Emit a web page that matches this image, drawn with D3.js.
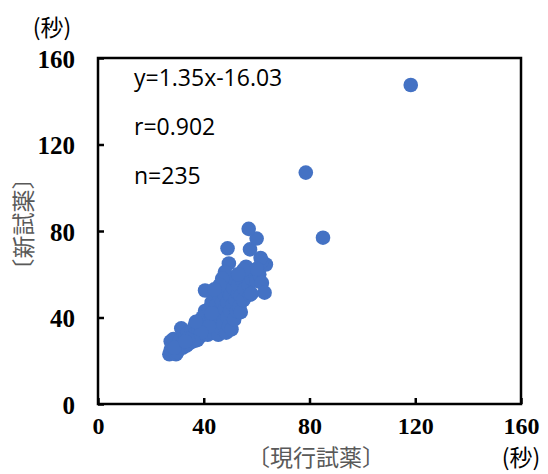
<!DOCTYPE html>
<html>
<head>
<meta charset="utf-8">
<script src="https://cdn.jsdelivr.net/npm/d3@7"></script>
<style>
  body { margin: 0; background: #fff; }
  .tick text { font-family: "Liberation Serif", "Times New Roman", serif; font-weight: bold; font-size: 25px; fill: #000; }
  .note { font-family: "Open Sans", "Noto Sans", sans-serif; font-size: 23px; fill: #000; }
  .cjk { font-family: "Noto Sans CJK JP", sans-serif; font-size: 23px; }
</style>
</head>
<body>
<div id="chart"></div>
<script>
// 現行試薬 (x) vs 新試薬 (y), seconds
const currentTimes = [
  27, 27.5, 28, 27.5, 28.5, 29.5, 30, 30.5, 31, 31.5, 32, 32.5, 33, 33.5, 34, 34.5, 35, 35.5, 36, 36.5,
  37, 37.5, 38, 38, 38.5, 39, 39.5, 40, 40, 40.5, 40.5, 41, 41, 41.5, 42, 42, 42.5, 43, 43, 43.5,
  44, 44, 44.5, 45, 45, 45, 45.5, 46, 46, 46, 46.5, 47, 47, 47, 47.5, 48, 48, 48, 48.5, 49,
  49, 49, 49.5, 50, 50, 50, 50.5, 51, 51, 51.5, 52, 52, 52.5, 53, 53, 53.5, 54, 54, 54.5, 55,
  55.5, 56, 56, 57, 57.5, 58, 58, 59, 60, 61, 62, 63, 63.5, 62, 61.5, 60, 57.5, 60, 57, 49,
  49.5, 48, 47, 46, 44, 55, 53, 42, 39, 36, 34, 30, 29, 33, 37, 43,
  118.3, 78.6, 85.1
];
const newTimes = [
  23, 25, 27, 29, 30, 23, 25.5, 28, 30, 35, 26, 29, 31, 27, 33, 28, 30, 34, 31, 36,
  33, 29.5, 38, 34, 31, 36, 40, 33, 38, 43, 52.5, 35, 41, 32, 38, 44, 35, 40, 47, 33,
  37, 43, 49, 35, 40, 46, 32, 38, 43, 50, 35, 41, 47, 53, 37, 44, 50, 56.5, 33, 40,
  47, 53, 36, 43, 50, 58.5, 34.5, 46, 54, 39, 48, 57.5, 43, 51, 55, 45, 42.5, 50, 57, 48,
  53, 60, 63.5, 55, 50.5, 58, 51, 61, 57, 60, 56, 51.5, 64.5, 66, 67.5, 62.5, 71.5, 76.5, 81, 72,
  65, 61, 58, 55, 53, 62, 60, 36, 33, 29, 30, 24, 26, 29, 38, 42,
  147.5, 107, 76.9
];
const xTicks = [0, 40, 80, 120, 160];
const yTicks = [0, 40, 80, 120, 160];
const notes = ["y=1.35x-16.03", "r=0.902", "n=235"];

const width = 548, height = 474;
const margin = {left: 98, top: 58, right: 27, bottom: 70};
const innerW = width - margin.left - margin.right;
const innerH = height - margin.top - margin.bottom;

const svg = d3.select("#chart").append("svg")
  .attr("width", width)
  .attr("height", height);

const g = svg.append("g")
  .attr("transform", `translate(${margin.left},${margin.top})`);

const x = d3.scaleLinear().domain([0, 160]).range([0, innerW]);
const y = d3.scaleLinear().domain([0, 160]).range([innerH, 0]);

const xAxis = g.append("g")
  .attr("transform", `translate(0,${innerH})`)
  .call(d3.axisBottom(x).tickValues(xTicks).tickSize(-6).tickPadding(13));
const yAxis = g.append("g")
  .call(d3.axisLeft(y).tickValues(yTicks).tickSize(-6).tickPadding(23));

[xAxis, yAxis].forEach(a => {
  a.select(".domain").remove();
  a.selectAll(".tick line").attr("stroke", "#000").attr("stroke-width", 2.5);
});
yAxis.selectAll(".tick text").attr("dy", "0.36em");
xAxis.selectAll(".tick text").style("font-size", "24px");

g.selectAll("circle")
  .data(currentTimes.map((d, i) => [d, newTimes[i]]))
  .enter().append("circle")
  .attr("cx", d => x(d[0]))
  .attr("cy", d => y(d[1]))
  .attr("r", 7.3)
  .attr("fill", "#4472C4");

g.append("rect")
  .attr("width", innerW)
  .attr("height", innerH)
  .attr("fill", "none")
  .attr("stroke", "#000")
  .attr("stroke-width", 2.5);

g.selectAll(".note")
  .data(notes)
  .enter().append("text")
  .attr("class", "note")
  .attr("x", 36)
  .attr("y", (d, i) => 28 + i * 49)
  .text(d => d);

// axis titles
svg.append("text")
  .attr("class", "cjk")
  .attr("x", 316)
  .attr("y", 466)
  .attr("text-anchor", "middle")
  .attr("font-size", 22)
  .attr("fill", "#595959")
  .text("〔現行試薬〕");

svg.append("text")
  .attr("class", "cjk")
  .attr("transform", "translate(32,224) rotate(-90)")
  .attr("text-anchor", "middle")
  .attr("fill", "#595959")
  .text("〔新試薬〕");

svg.append("text")
  .attr("class", "cjk")
  .attr("x", 52)
  .attr("y", 36)
  .attr("text-anchor", "middle")
  .attr("font-size", 26)
  .attr("fill", "#000")
  .text("(秒)");

svg.append("text")
  .attr("class", "cjk")
  .attr("x", 521)
  .attr("y", 466)
  .attr("text-anchor", "middle")
  .attr("font-size", 22)
  .attr("fill", "#000")
  .text("(秒)");
</script>
</body>
</html>
